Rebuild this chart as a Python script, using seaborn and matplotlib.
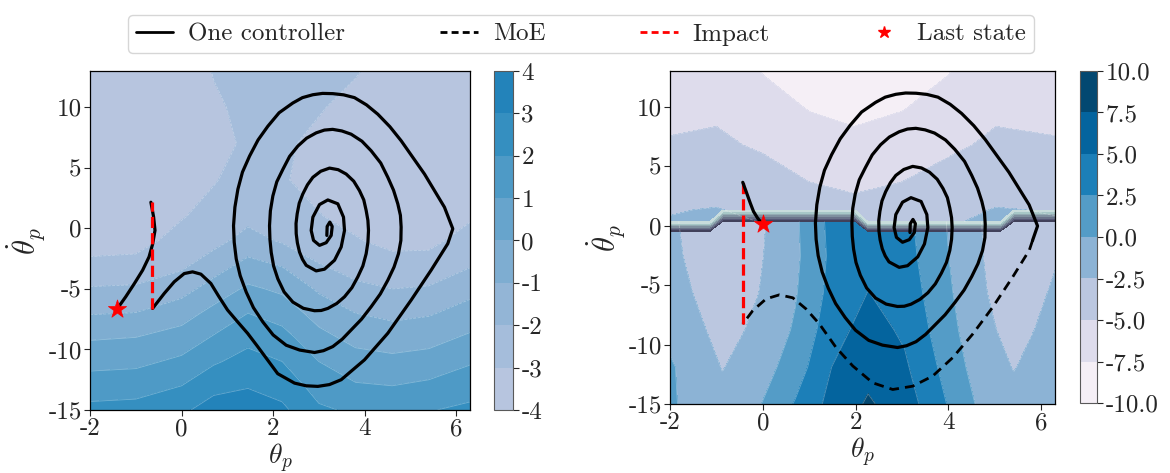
import numpy as np
import matplotlib
matplotlib.use("Agg")
import matplotlib.pyplot as plt
from matplotlib.colors import Normalize
from matplotlib.lines import Line2D
import seaborn as sns

# ---------------- data ----------------
# left background field (columns = theta, each list = values down the thetadot rows)
left_theta = [-2, -1, 0, 0.7, 1.45, 2.2, 3.0, 3.8, 4.6, 5.4, 6.3]
left_thetadot = [13, 10, 7, 4, 1, -1, -3, -5, -7, -9, -11, -13, -15]
left_field_cols = [
    [-3.8, -3.7, -3.6, -3.5, -3.4, -3.3, -2.85, -1.91, -1.06, -0.1, 0.69, 1.48, 2.28],
    [-3.8, -3.7, -3.6, -3.5, -3.35, -3.25, -2.8, -1.83, -0.98, 0.0, 0.77, 1.56, 2.36],
    [-3.7, -3.6, -3.5, -3.3, -3.05, -2.75, -2.21, -1.36, -0.44, 0.42, 1.2, 2.0, 2.8],
    [-2.95, -3.15, -3.2, -3.05, -2.75, -2.33, -1.49, -0.59, 0.31, 1.08, 1.88, 2.68, 3.48],
    [-2.7, -2.75, -2.9, -2.7, -2.3, -1.62, -0.71, 0.18, 1.0, 1.72, 2.36, 2.94, 3.5],
    [-2.7, -2.8, -2.9, -2.95, -2.6, -2.12, -1.08, -0.18, 0.58, 1.36, 2.0, 2.6, 3.2],
    [-2.8, -2.95, -3.15, -3.2, -2.97, -2.75, -1.95, -1.15, -0.4, 0.3, 1.0, 1.6, 2.15],
    [-2.95, -3.2, -3.35, -3.35, -3.2, -2.95, -2.45, -1.75, -1.0, -0.3, 0.4, 1.1, 1.85],
    [-3.3, -3.4, -3.5, -3.5, -3.4, -3.2, -2.75, -2.0, -1.25, -0.5, 0.25, 1.0, 1.75],
    [-3.4, -3.5, -3.55, -3.5, -3.4, -3.2, -2.7, -1.9, -1.1, -0.35, 0.4, 1.2, 1.95],
    [-3.3, -3.35, -3.35, -3.3, -3.1, -2.7, -2.1, -1.3, -0.6, 0.15, 0.9, 1.6, 2.2],
]

# right background field, part below the switching band
right_low_theta = [-2.0, -0.87, -0.085, 0.70, 1.485, 2.27, 3.055, 3.84, 4.625, 5.41, 6.3]
right_low_thetadot = [-15, -11.89, -8.78, -5.67, -2.56, 0.34]
right_low_cols = [
    [0.3, 0.3, -0.7, -1.5, -2.0, -2.2],
    [-1.8, -2.6, -3.3, -3.8, -4.0, -4.0],
    [-0.2, -1.2, -2.0, -2.5, -2.8, -3.0],
    [2.7, 1.2, 0.3, -0.2, -0.5, -0.4],
    [5.8, 5.0, 4.0, 3.3, 3.0, 3.2],
    [7.8, 6.7, 6.0, 5.05, 4.2, 3.8],
    [6.3, 5.4, 4.6, 4.0, 3.5, 3.2],
    [3.0, 2.2, 1.5, 1.0, 0.6, 0.4],
    [-0.2, -1.0, -1.6, -2.0, -2.2, -2.3],
    [-1.8, -2.6, -3.3, -3.8, -4.0, -4.0],
    [-0.8, -1.2, -1.7, -2.2, -2.7, -2.8],
]
# right background field, part above the switching band
right_up_theta = [-2, -1, 0, 1, 1.97, 3, 4, 5.03, 6.3]
right_up_thetadot = [0.34, 1.33, 3.67, 6.78, 9.89, 13]
right_up_cols = [
    [-2.4, -2.6, -3.6, -4.8, -5.6, -6.2],
    [-1.8, -2.4, -3.5, -4.6, -5.4, -6.0],
    [-2.6, -3.0, -4.0, -5.3, -6.6, -7.6],
    [-3.5, -3.8, -5.0, -6.5, -7.6, -8.3],
    [-4.0, -4.3, -5.5, -7.0, -8.0, -8.7],
    [-3.6, -3.9, -5.0, -6.5, -7.6, -8.3],
    [-2.8, -3.1, -4.2, -5.4, -6.7, -7.6],
    [-1.9, -2.4, -3.5, -4.6, -5.4, -6.0],
    [-2.4, -2.6, -3.6, -4.8, -5.6, -6.2],
]
# gating (switching) band of the mixture of experts
band_theta = [-2, -1.145, -0.86, 1.99, 2.27, 5.12, 5.41, 6.3]
band_thetadot = [-15, -0.5, 0.34, 1.33, 13]
band_cols = [
    [0, 0, 1, 1, 1],
    [0, 0, 1, 1, 1],
    [0, 0, 0, 1, 1],
    [0, 0, 0, 1, 1],
    [0, 0, 1, 1, 1],
    [0, 0, 1, 1, 1],
    [0, 0, 0, 1, 1],
    [0, 0, 0, 1, 1],
]

# spiral shared by both runs (theta, thetadot)
spiral_theta = [
    3.173, 3.180, 3.238, 3.290, 3.268, 3.159, 3.013, 2.882, 2.831, 2.868,
    3.013, 3.195, 3.413, 3.537, 3.559, 3.486, 3.341, 3.122, 2.940, 2.722,
    2.64, 2.576, 2.53, 2.504, 2.50, 2.525, 2.57, 2.649, 2.75, 2.868,
    3.04, 3.232, 3.42, 3.595, 3.76, 3.886, 3.98, 4.032, 4.07, 4.083,
    4.07, 4.032, 3.96, 3.850, 3.72, 3.559, 3.39, 3.195, 3.05, 2.904,
    2.66, 2.431, 2.24, 2.103, 2.01, 1.958, 1.93, 1.921, 1.94, 1.994,
    2.08, 2.213, 2.36, 2.540, 2.73, 2.940, 3.12, 3.300, 3.50, 3.704,
    3.94, 4.141, 4.35, 4.505, 4.63, 4.723, 4.78, 4.796, 4.79, 4.738,
    4.64, 4.505, 4.34, 4.141, 3.93, 3.704, 3.51, 3.304, 3.10, 2.904,
    2.58, 2.285, 2.00, 1.776, 1.57, 1.412, 1.28, 1.194, 1.15, 1.135,
    1.165, 1.230, 1.33, 1.485, 1.67, 1.885, 2.13, 2.431, 2.64, 2.868,
    3.08, 3.304, 3.54, 3.777, 4.04, 4.287, 4.55, 4.796, 5.306, 5.742,
    5.924, 5.815]
spiral_thetadot = [
    -0.58, 0.16, 0.52, 0.16, -0.58, -1.18, -1.40, -0.99, -0.17, 0.93,
    1.97, 2.35, 2.03, 0.93, -0.17, -1.54, -2.63, -3.37, -3.51, -3.05,
    -2.55, -1.95, -1.20, -0.44, 0.40, 1.20, 2.08, 2.85, 3.60, 4.22,
    4.72, 4.98, 4.85, 4.49, 3.90, 3.12, 2.35, 1.48, 0.66, -0.17,
    -1.15, -2.09, -3.10, -4.00, -4.90, -5.65, -6.20, -6.61, -6.78, -6.80,
    -6.60, -6.09, -5.25, -4.17, -3.10, -1.98, -0.90, 0.22, 1.45, 2.68,
    3.85, 4.88, 5.95, 6.80, 7.45, 7.89, 8.12, 8.18, 8.05, 7.78,
    7.20, 6.41, 5.40, 4.22, 3.15, 2.03, 1.08, 0.11, -1.00, -2.09,
    -3.20, -4.28, -5.42, -6.47, -7.50, -8.39, -9.15, -9.76, -10.10, -10.25,
    -10.05, -9.65, -8.80, -7.73, -6.55, -5.26, -3.90, -2.52, -1.15, 0.22,
    1.75, 3.23, 4.65, 5.97, 7.30, 8.44, 9.55, 10.36, 10.80, 11.04,
    11.15, 11.13, 11.03, 10.80, 10.20, 9.43, 8.40, 7.24, 4.49, 1.75,
    -0.03, -1.26]
# one-controller continuation (left panel) up to the impact
one_theta = [5.815, 5.451, 5.015, 4.505, 3.995, 3.486, 3.23, 2.976, 2.72, 2.467,
             2.10, 1.878, 1.65, 1.441, 1.22, 1.004, 0.81, 0.640, 0.422, 0.240,
             0.058, -0.160, -0.378, -0.633]
one_thetadot = [-1.26, -3.45, -5.92, -8.66, -10.86, -12.50, -12.90, -13.05, -13.00, -12.78,
                -12.00, -10.86, -9.70, -8.66, -7.70, -6.74, -5.60, -4.55, -3.78, -3.59,
                -3.73, -4.41, -5.37, -6.61]

left_impact_theta = [-0.65, -0.65]
left_impact_thetadot = [-6.65, 2.16]
left_tail_theta = [-0.67, -0.61, -0.58, -0.63, -0.71, -0.85, -1.03, -1.22, -1.40]
left_tail_thetadot = [2.16, 0.93, -0.16, -1.26, -2.35, -3.45, -4.55, -5.65, -6.61]
left_last = (-1.40, -6.65)

moe_theta = [5.815, 5.747, 5.388, 4.957, 4.526, 4.095, 3.664, 3.233, 2.802, 2.371,
             1.940, 1.580, 1.221, 0.934, 0.647, 0.359, 0.072, -0.216, -0.431]
moe_thetadot = [-1.26, -2.06, -4.32, -6.86, -9.12, -11.10, -12.65, -13.50, -13.78, -13.22,
                -11.80, -10.25, -8.27, -7.01, -6.07, -5.82, -6.16, -7.15, -8.27]
right_impact_theta = [-0.431, -0.431]
right_impact_thetadot = [-8.27, 3.64]
right_tail_theta = [-0.431, -0.36, -0.27, -0.20, -0.11, -0.01]
right_tail_thetadot = [3.64, 2.88, 1.90, 1.19, 0.62, 0.14]
right_last = (0.0, 0.12)

left_levels = [-4, -3, -2, -1, 0, 1, 2, 3, 4]
right_levels = [-10, -7.5, -5, -2.5, 0, 2.5, 5, 7.5, 10]
x_ticks = [-2, 0, 2, 4, 6]
y_ticks = [-15, -10, -5, 0, 5, 10]
legend_labels = ["One controller", "MoE", "Impact", "Last state"]

# ---------------- style ----------------
sns.set_style("ticks")
plt.rcParams["font.family"] = ["cmr10", "DejaVu Serif"]
plt.rcParams["mathtext.fontset"] = "cm"
plt.rcParams["axes.unicode_minus"] = False
plt.rcParams["axes.formatter.use_mathtext"] = False

W, H = 1170, 473
fig = plt.figure(figsize=(W / 100, H / 100), dpi=100)
axL = fig.add_axes([90 / W, 63 / H, 380 / W, 339 / H])
caxL = fig.add_axes([494 / W, 63 / H, 19 / W, 339 / H])
axR = fig.add_axes([670 / W, 69 / H, 385 / W, 333 / H])
caxR = fig.add_axes([1080 / W, 70 / H, 17 / W, 332 / H])

norm = Normalize(vmin=-10, vmax=10)
cmap = "PuBu"

# left field
XL, YL = np.meshgrid(left_theta, left_thetadot)
ZL = np.array(left_field_cols).T
csL = axL.contourf(XL, YL, ZL, levels=left_levels, cmap=cmap, norm=norm)
axL.contour(XL, YL, ZL, levels=left_levels, colors="white", linewidths=0.6, alpha=0.3)

# right field
XR1, YR1 = np.meshgrid(right_low_theta, right_low_thetadot)
ZR1 = np.array(right_low_cols).T
csR = axR.contourf(XR1, YR1, ZR1, levels=right_levels, cmap=cmap, norm=norm)
axR.contour(XR1, YR1, ZR1, levels=right_levels, colors="white", linewidths=0.6, alpha=0.3)
XR2, YR2 = np.meshgrid(right_up_theta, right_up_thetadot)
ZR2 = np.array(right_up_cols).T
axR.contourf(XR2, YR2, ZR2, levels=right_levels, cmap=cmap, norm=norm)
axR.contour(XR2, YR2, ZR2, levels=right_levels, colors="white", linewidths=0.6, alpha=0.3)
XB, YB = np.meshgrid(band_theta, band_thetadot)
ZB = np.array(band_cols, dtype=float).T
axR.contourf(XB, YB, ZB, levels=np.linspace(0.02, 0.98, 8), cmap="bone",
             norm=Normalize(vmin=-0.35, vmax=1.15))

# trajectories
lw = 2.3
kw = dict(sort=False, estimator=None, solid_joinstyle="round", solid_capstyle="round")
sns.lineplot(x=spiral_theta + one_theta, y=spiral_thetadot + one_thetadot,
             color="black", linewidth=lw, ax=axL, **kw)
sns.lineplot(x=left_tail_theta, y=left_tail_thetadot, color="black", linewidth=lw,
             ax=axL, **kw)
sns.lineplot(x=left_impact_theta, y=left_impact_thetadot, sort=False, estimator=None,
             color="red", linewidth=lw, linestyle=(0, (3.5, 1.6)), ax=axL)
sns.scatterplot(x=[left_last[0]], y=[left_last[1]], marker="*", s=190, color="red",
                edgecolor="red", linewidth=0.5, zorder=6, ax=axL)

sns.lineplot(x=spiral_theta, y=spiral_thetadot, color="black", linewidth=lw, ax=axR, **kw)
sns.lineplot(x=moe_theta, y=moe_thetadot, sort=False, estimator=None,
             color="black", linewidth=2.0, linestyle=(0, (3.5, 2.2)), ax=axR)
sns.lineplot(x=right_impact_theta, y=right_impact_thetadot, sort=False, estimator=None,
             color="red", linewidth=lw, linestyle=(0, (3.5, 1.6)), ax=axR)
sns.lineplot(x=right_tail_theta, y=right_tail_thetadot, color="black", linewidth=lw,
             ax=axR, **kw)
sns.scatterplot(x=[right_last[0]], y=[right_last[1]], marker="*", s=190, color="red",
                edgecolor="red", linewidth=0.5, zorder=6, ax=axR)

for ax in (axL, axR):
    ax.set_xlim(-2, 6.3)
    ax.set_ylim(-15, 13)
    ax.set_xticks(x_ticks)
    ax.set_yticks(y_ticks)
    ax.set_xticklabels([str(t) for t in x_ticks])
    ax.set_yticklabels([str(t) for t in y_ticks])
    ax.tick_params(labelsize=18, length=4, width=0.8, pad=2)
    ax.set_xlabel(r"$\theta_p$", fontsize=20, labelpad=1)
    ax.set_ylabel(r"$\dot{\theta}_p$", fontsize=22, labelpad=1)
    for s in ax.spines.values():
        s.set_linewidth(0.9)
        s.set_color("black")

cbL = fig.colorbar(csL, cax=caxL)
cbL.set_ticks(left_levels)
cbL.set_ticklabels([str(t) for t in left_levels])
cbR = fig.colorbar(csR, cax=caxR)
cbR.set_ticks(right_levels)
cbR.set_ticklabels([f"{t:.1f}" for t in right_levels])
for cb in (cbL, cbR):
    cb.ax.tick_params(labelsize=18, length=4, width=0.8, pad=2)
    cb.outline.set_linewidth(0.8)
    cb.outline.set_edgecolor("0.35")

handles = [
    Line2D([], [], color="black", linewidth=2.0),
    Line2D([], [], color="black", linewidth=2.0, linestyle=(0, (2.5, 1.5))),
    Line2D([], [], color="red", linewidth=2.0, linestyle=(0, (2.5, 1.5))),
    Line2D([], [], color="red", linestyle="", marker="*", markersize=9),
]
fig.legend(handles, legend_labels, loc="upper center", bbox_to_anchor=(581 / W, 1 - 3 / H),
           ncol=4, fontsize=18, handlelength=1.5, handletextpad=0.6, columnspacing=3.8,
           borderpad=0.3, frameon=True, fancybox=True, edgecolor="0.8")

fig.savefig("out.png", dpi=100)
